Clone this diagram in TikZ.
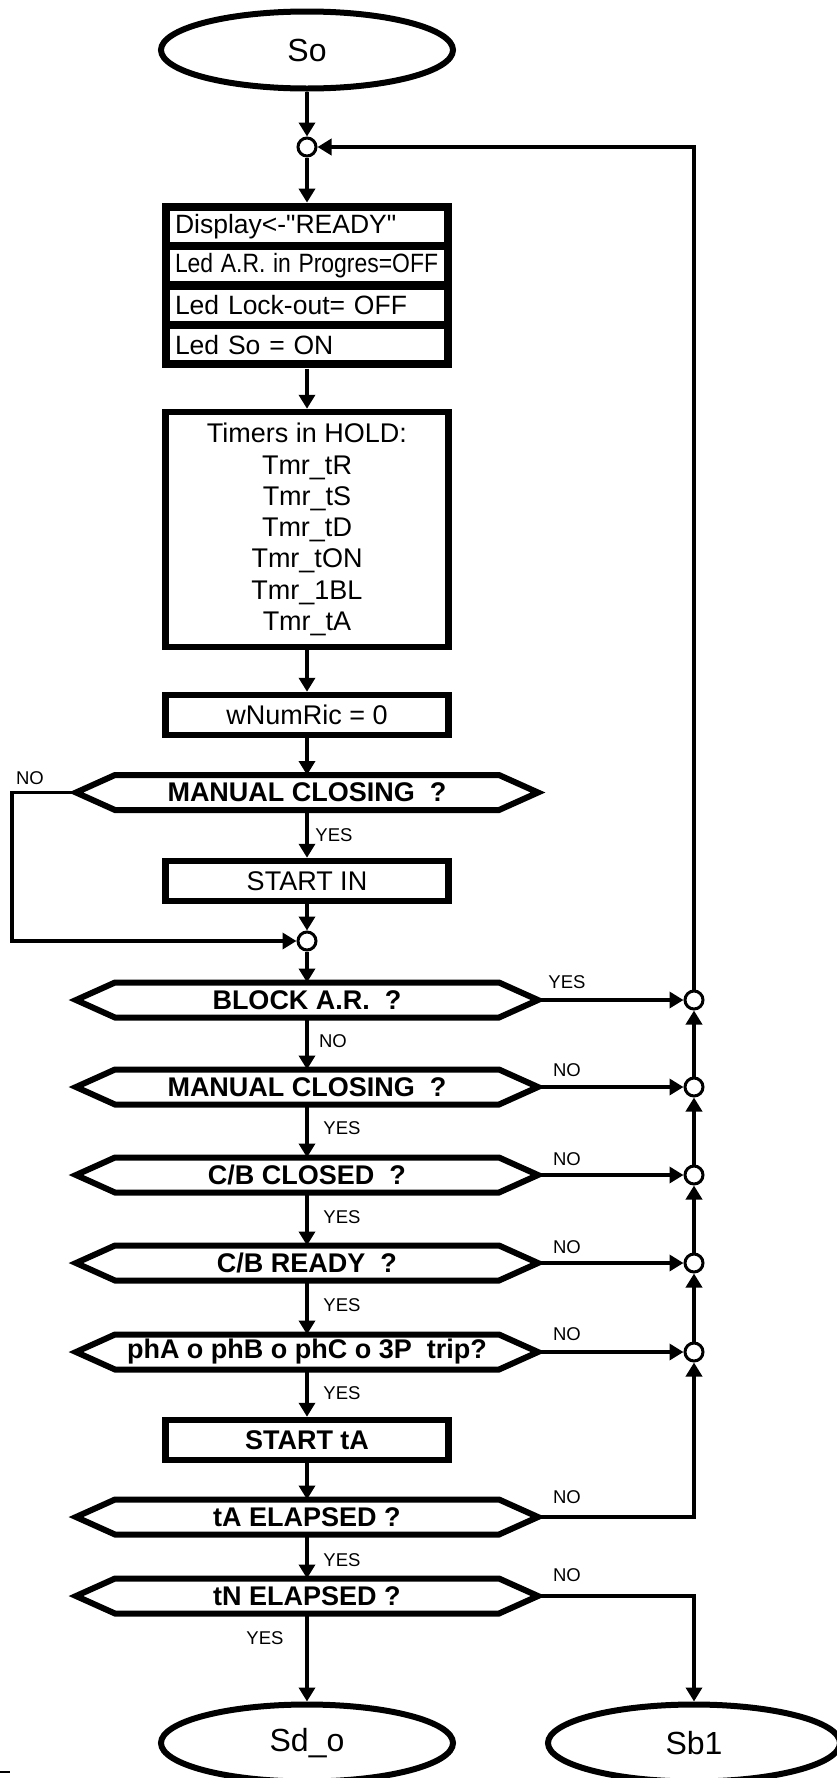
\documentclass[tikz,border=0pt]{standalone}
\usepackage{fontspec}
\setmainfont{Liberation Sans}[Ligatures=TeXOff]
\usepackage{tikz}
\usetikzlibrary{shapes,arrows.meta,positioning,calc,fit,backgrounds}
\frenchspacing

\tikzset{
  term/.style={ellipse, draw, line width=6pt, minimum width=292pt, minimum height=77pt, inner sep=0pt, font=\fontsize{32}{36}\selectfont},
  proc/.style={rectangle, draw, line width=6.5pt, minimum width=283pt, minimum height=40pt, inner sep=0pt, font=\fontsize{27}{31}\selectfont},
  cell/.style={rectangle, fill=white, minimum width=274pt, minimum height=31pt, inner xsep=5pt, inner ysep=0pt, text width=264pt, align=left, font=\fontsize{26.5}{28}\selectfont},
  dec/.style={rectangle, minimum width=462pt, minimum height=35pt, inner sep=0pt, outer sep=0pt, font=\bfseries\fontsize{27}{29}\selectfont},
  hexline/.style={line width=6pt, line join=miter},
  junc/.style={circle, draw, line width=3pt, minimum size=18pt, inner sep=0pt, fill=white},
  arr/.style={line width=3.5pt, -{Triangle[length=14pt,width=16pt]}},
  lbl/.style={font=\fontsize{18.5}{20}\selectfont, inner sep=0pt},
}

\begin{document}
\begin{tikzpicture}[x=1pt, y=-1pt]
    \useasboundingbox (0,0) rectangle (836,1778);

    % start and loop entry
    \node[term] (so) at (307,50) {So};
    \node[junc] (j0) at (307,147) {};

    % led / display block
    \node[cell] (c1) at (307,226.5) {Display<-"READY"};
    \node[cell, below=8pt of c1] (c2) {\scalebox{0.865}[1]{Led A.R. in Progres=OFF}};
    \node[cell, below=8pt of c2] (c3) {Led Lock-out= OFF};
    \node[cell, below=8pt of c3] (c4) {Led So = ON};
    \begin{scope}[on background layer]
        \node[fit=(c1)(c4), fill=black, inner xsep=8pt, inner ysep=8pt] (leds) {};
    \end{scope}

    \node[proc, minimum height=235pt, align=center, font=\fontsize{27}{31.3}\selectfont] (timers) at (307,529.5)
        {Timers in HOLD:\\Tmr\_tR\\Tmr\_tS\\Tmr\_tD\\Tmr\_tON\\Tmr\_1BL\\Tmr\_tA};
    \node[proc] (wnum) at (307,715) {wNumRic = 0};

    \node[dec] (mc1) at (307,792.5) {MANUAL CLOSING\ \ ?};
    \node[proc] (startin) at (307,881) {START IN};
    \node[junc] (j1) at (307,941) {};

    % checks
    \node[dec] (block) at (307,1000) {BLOCK A.R.\ \ ?};
    \node[dec] (mc2) at (307,1087) {MANUAL CLOSING\ \ ?};
    \node[dec] (cbc) at (307,1175) {C/B CLOSED\ \ ?};
    \node[dec] (cbr) at (307,1263) {C/B READY\ \ ?};
    \node[dec] (pha) at (307,1352) {phA o phB o phC o 3P\ \ trip?};
    \node[proc, font=\bfseries\fontsize{27}{31}\selectfont] (starta) at (307,1440) {START tA};
    \node[dec] (tae) at (307,1517) {tA ELAPSED ?};
    \node[dec] (tne) at (307,1596) {tN ELAPSED ?};

    \node[term] (sdo) at (307,1743) {Sd\_o};
    \node[term] (sb1) at (694,1743) {Sb1};

    % return junctions
    \foreach \n/\y in {r1/1000, r2/1087, r3/1175, r4/1263, r5/1352}
        \node[junc] (\n) at (694,\y) {};

    % hexagon outlines
    \foreach \d in {mc1,block,mc2,cbc,cbr,pha,tae,tne}
        \draw[hexline] (\d.west) -- ([xshift=39pt]\d.north west) -- ([xshift=-39pt]\d.north east)
            -- (\d.east) -- ([xshift=-39pt]\d.south east) -- ([xshift=39pt]\d.south west) -- cycle;

    % main flow
    \draw[arr] (so) -- (j0);
    \draw[arr] (j0) -- (leds);
    \draw[arr] (leds) -- (timers);
    \draw[arr] (timers) -- (wnum);
    \draw[arr] (wnum) -- (mc1);
    \draw[arr] (mc1) -- (startin);
    \draw[arr] (startin) -- (j1);
    \draw[arr] (mc1.west) -- ++(-64,0) |- (j1);
    \draw[arr] (j1) -- (block);
    \draw[arr] (block) -- (mc2);
    \draw[arr] (mc2) -- (cbc);
    \draw[arr] (cbc) -- (cbr);
    \draw[arr] (cbr) -- (pha);
    \draw[arr] (pha) -- (starta);
    \draw[arr] (starta) -- (tae);
    \draw[arr] (tae) -- (tne);
    \draw[arr] (tne) -- (sdo);

    % return path
    \foreach \d/\r in {block/r1, mc2/r2, cbc/r3, cbr/r4, pha/r5}
        \draw[arr] (\d.east) -- (\r);
    \foreach \a/\b in {r5/r4, r4/r3, r3/r2, r2/r1}
        \draw[arr] (\a) -- (\b);
    \draw[arr] (r1) |- (j0);
    \draw[arr] (tae.east) -| (r5);
    \draw[arr] (tne.east) -| (sb1);

    % labels
    \node[lbl] (lno0) at (30,778) {NO};
    \node[lbl] (lyes1) at (334,835) {YES};
    \node[lbl] (lyes2) at (567,982) {YES};
    \node[lbl] (lno1) at (333,1041) {NO};
    \node[lbl] (lno2) at (567,1070) {NO};
    \node[lbl] (lyes3) at (342,1128) {YES};
    \node[lbl] (lno3) at (567,1159) {NO};
    \node[lbl] (lyes4) at (342,1217) {YES};
    \node[lbl] (lno4) at (567,1247) {NO};
    \node[lbl] (lyes5) at (342,1305) {YES};
    \node[lbl] (lno5) at (567,1334) {NO};
    \node[lbl] (lyes6) at (342,1393) {YES};
    \node[lbl] (lno6) at (567,1497) {NO};
    \node[lbl] (lyes7) at (342,1560) {YES};
    \node[lbl] (lno7) at (567,1575) {NO};
    \node[lbl] (lyes8) at (265,1638) {YES};

    \draw[line width=2pt] (0,1772) -- (10,1772);
\end{tikzpicture}
\end{document}
